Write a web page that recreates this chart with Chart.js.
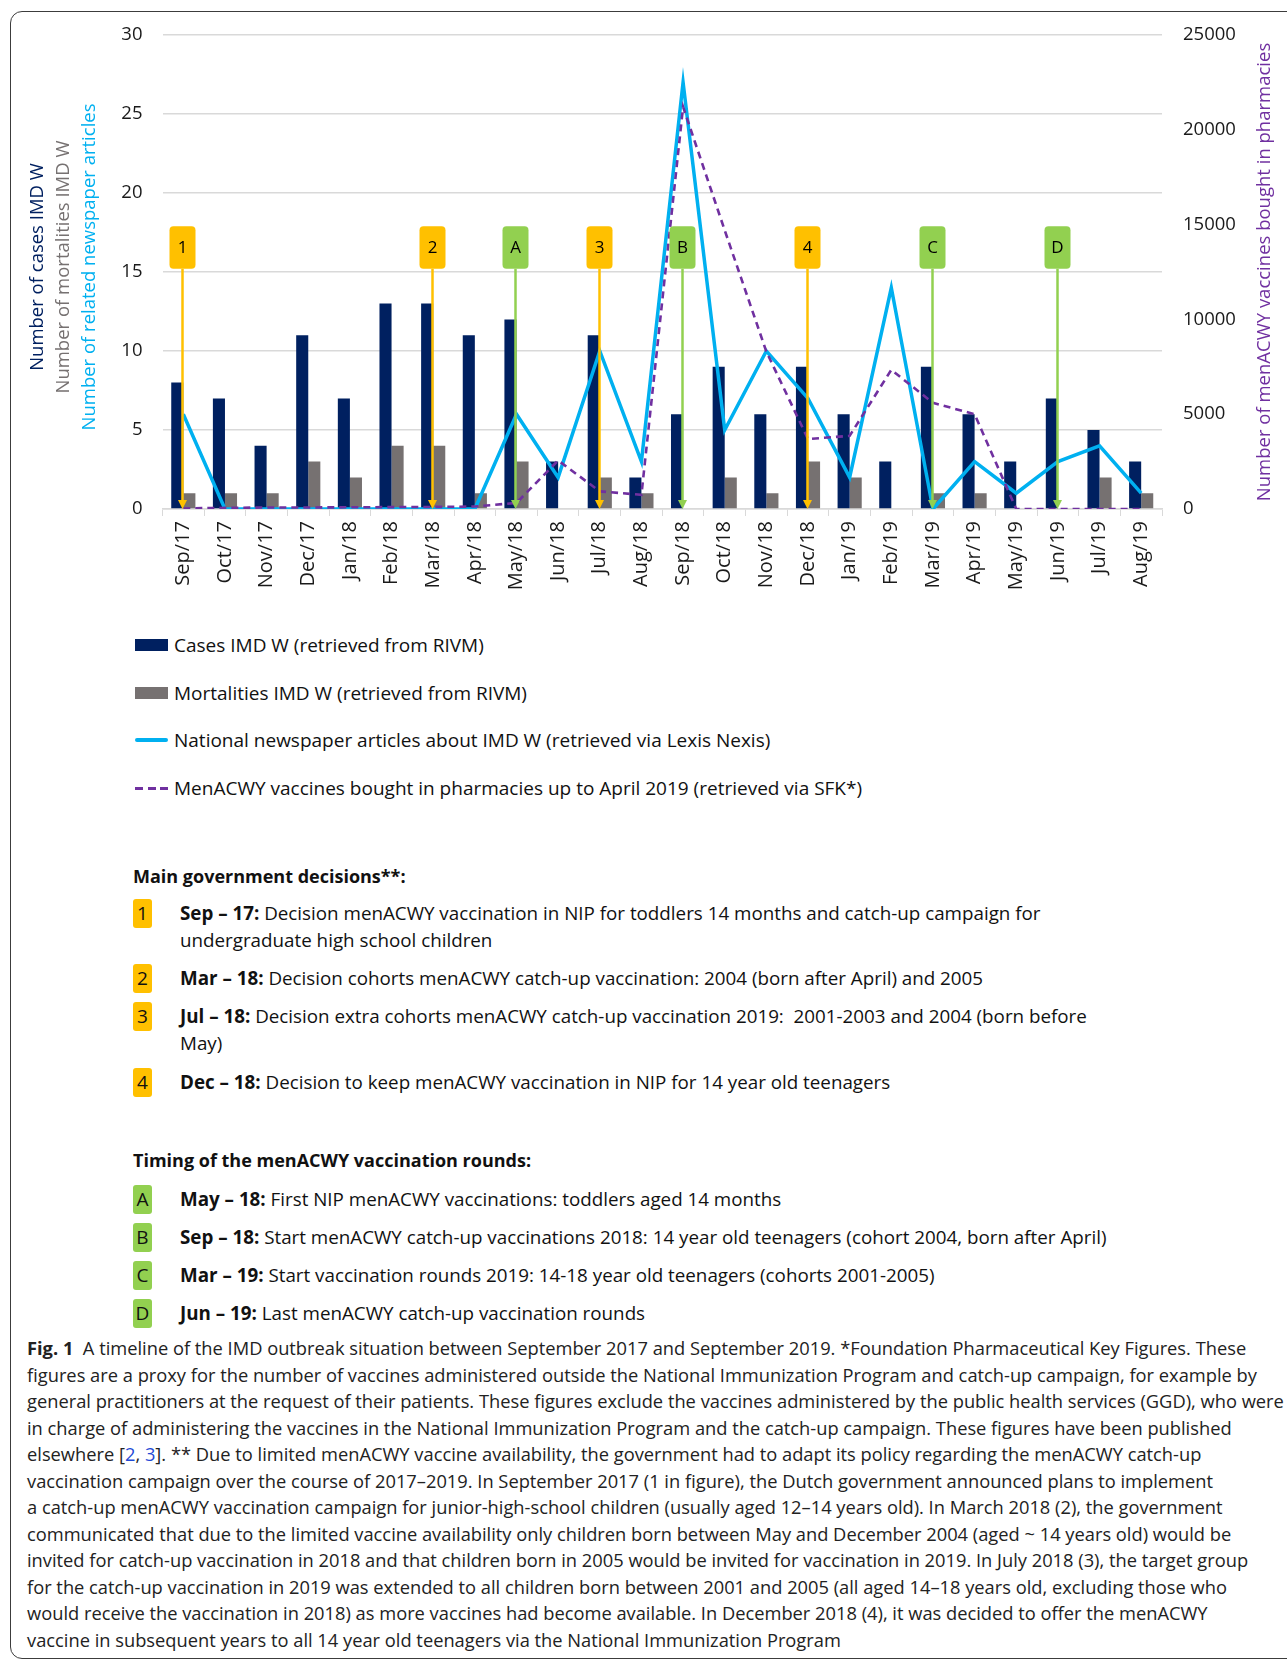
<!DOCTYPE html>
<html>
<head>
<meta charset="utf-8">
<script src="https://cdn.jsdelivr.net/npm/chart.js@4.4.1/dist/chart.umd.min.js"></script>
<style>
  body { margin: 0; width: 1287px; height: 1662px; overflow: hidden; position: relative; background: #fff; font-family: "Open Sans", sans-serif; color: #111; }
  #frame { position: absolute; left: 10px; top: 11px; width: 1320px; height: 1648px; border: 1.5px solid #3c3c3c; border-radius: 12px; box-sizing: border-box; }
  #chartBox { position: absolute; left: 0; top: 0; width: 1287px; height: 600px; }
  #legend { position: absolute; left: 135px; top: 621px; }
  .lg { height: 47.8px; display: flex; align-items: center; font-size: 19px; white-space: nowrap; }
  .sw { display: inline-block; width: 33px; margin-right: 6px; }
  .head { position: absolute; left: 133px; font-weight: 700; font-size: 18px; line-height: 27px; white-space: nowrap; }
  .badge { position: absolute; left: 133px; width: 19px; height: 29px; border-radius: 3px; font-size: 19px; line-height: 29px; text-align: center; }
  .item { position: absolute; left: 180px; font-size: 18.8px; line-height: 27px; white-space: nowrap; }
  #caption { position: absolute; left: 27px; top: 1335px; font-size: 18.3px; line-height: 26.5px; white-space: nowrap; color: #222; }
  #caption a { color: #1f49d6; text-decoration: none; }
</style>
</head>
<body>
<div id="frame"></div>
<div id="chartBox"><canvas id="imdChart" width="1287" height="600"></canvas></div>
<div id="legend"></div>
<div id="lists"></div>
<div id="caption"><b>Fig. 1</b>&nbsp; A timeline of the IMD outbreak situation between September 2017 and September 2019. *Foundation Pharmaceutical Key Figures. These<br>figures are a proxy for the number of vaccines administered outside the National Immunization Program and catch-up campaign, for example by<br>general practitioners at the request of their patients. These figures exclude the vaccines administered by the public health services (GGD), who were<br>in charge of administering the vaccines in the National Immunization Program and the catch-up campaign. These figures have been published<br>elsewhere [<a>2</a>, <a>3</a>]. ** Due to limited menACWY vaccine availability, the government had to adapt its policy regarding the menACWY catch-up<br>vaccination campaign over the course of 2017–2019. In September 2017 (1 in figure), the Dutch government announced plans to implement<br>a catch-up menACWY vaccination campaign for junior-high-school children (usually aged 12–14 years old). In March 2018 (2), the government<br>communicated that due to the limited vaccine availability only children born between May and December 2004 (aged ~ 14 years old) would be<br>invited for catch-up vaccination in 2018 and that children born in 2005 would be invited for vaccination in 2019. In July 2018 (3), the target group<br>for the catch-up vaccination in 2019 was extended to all children born between 2001 and 2005 (all aged 14–18 years old, excluding those who<br>would receive the vaccination in 2018) as more vaccines had become available. In December 2018 (4), it was decided to offer the menACWY<br>vaccine in subsequent years to all 14 year old teenagers via the National Immunization Program</div>
<script>
// data
const months = ['Sep/17', 'Oct/17', 'Nov/17', 'Dec/17', 'Jan/18', 'Feb/18', 'Mar/18', 'Apr/18',
    'May/18', 'Jun/18', 'Jul/18', 'Aug/18', 'Sep/18', 'Oct/18', 'Nov/18', 'Dec/18',
    'Jan/19', 'Feb/19', 'Mar/19', 'Apr/19', 'May/19', 'Jun/19', 'Jul/19', 'Aug/19'];
const casesIMDW = [8, 7, 4, 11, 7, 13, 13, 11, 12, 3, 11, 2, 6, 9, 6, 9, 6, 3, 9, 6, 3, 7, 5, 3];
const mortalitiesIMDW = [1, 1, 1, 3, 2, 4, 4, 1, 3, 0, 2, 1, 0, 2, 1, 3, 2, 0, 1, 1, 0, 0, 2, 1];
const newspaperArticles = [6, 0, 0, 0, 0, 0, 0, 0, 6, 2, 10, 3, 27, 5, 10, 7, 2, 14, 0, 3, 1, 3, 4, 1];
const vaccinesPharmacies = [30, 60, 80, 80, 90, 100, 110, 130, 320, 2560, 930, 750,
    21210, 14700, 8300, 3690, 3860, 7340, 5600, 5000, 0, 0, 0, 0];
const leftTicks = [0, 5, 10, 15, 20, 25, 30];
const rightTicks = [0, 5000, 10000, 15000, 20000, 25000];

const seriesNames = ['Cases IMD W (retrieved from RIVM)',
    'Mortalities IMD W (retrieved from RIVM)',
    'National newspaper articles about IMD W (retrieved via Lexis Nexis)',
    'MenACWY vaccines bought in pharmacies up to April 2019 (retrieved via SFK*)'];
const leftTitles = ['Number of cases IMD W', 'Number of mortalities IMD W', 'Number of related newspaper articles'];
const rightTitle = 'Number of menACWY vaccines bought in pharmacies';

const markerLabels = ['1', '2', 'A', '3', 'B', '4', 'C', 'D'];
const markerMonths = ['Sep/17', 'Mar/18', 'May/18', 'Jul/18', 'Sep/18', 'Dec/18', 'Mar/19', 'Jun/19'];

const decisionLabels = ['1', '2', '3', '4'];
const decisionDates = ['Sep – 17:', 'Mar – 18:', 'Jul – 18:', 'Dec – 18:'];
const decisionTexts = [
    ' Decision menACWY vaccination in NIP for toddlers 14 months and catch-up campaign for<br>undergraduate high school children',
    ' Decision cohorts menACWY catch-up vaccination: 2004 (born after April) and 2005',
    ' Decision extra cohorts menACWY catch-up vaccination 2019:&nbsp; 2001-2003 and 2004 (born before<br>May)',
    ' Decision to keep menACWY vaccination in NIP for 14 year old teenagers'];
const roundLabels = ['A', 'B', 'C', 'D'];
const roundDates = ['May – 18:', 'Sep – 18:', 'Mar – 19:', 'Jun – 19:'];
const roundTexts = [
    ' First NIP menACWY vaccinations: toddlers aged 14 months',
    ' Start menACWY catch-up vaccinations 2018: 14 year old teenagers (cohort 2004, born after April)',
    ' Start vaccination rounds 2019: 14-18 year old teenagers (cohorts 2001-2005)',
    ' Last menACWY catch-up vaccination rounds'];

const NAVY = '#002060', GREY = '#767171', CYAN = '#00B0F0', PURPLE = '#7030A0';
const YELLOW = '#FFC000', GREEN = '#92D050';
const titleColors = [NAVY, GREY, CYAN];
const FONT = '"Open Sans", sans-serif';

// rotated axis titles, three colours on the left
const axisTitles = {
    id: 'axisTitles',
    afterDraw(chart) {
        const { ctx, chartArea } = chart;
        const cy = (chartArea.top + chartArea.bottom) / 2 - 5;
        const xs = [chartArea.left - 125, chartArea.left - 99, chartArea.left - 73];
        ctx.save();
        ctx.font = '18.5px ' + FONT;
        ctx.textAlign = 'center';
        ctx.textBaseline = 'middle';
        leftTitles.forEach((t, i) => {
            ctx.save();
            ctx.translate(xs[i], cy);
            ctx.rotate(-Math.PI / 2);
            ctx.fillStyle = titleColors[i];
            ctx.fillText(t, 0, 0);
            ctx.restore();
        });
        ctx.translate(chartArea.right + 103, cy + 5);
        ctx.rotate(-Math.PI / 2);
        ctx.fillStyle = PURPLE;
        ctx.fillText(rightTitle, 0, 0);
        ctx.restore();
    }
};

// numbered / lettered flags with arrows down to the axis
const eventMarkers = {
    id: 'eventMarkers',
    afterDatasetsDraw(chart) {
        const { ctx } = chart;
        const xs = chart.scales.x, ys = chart.scales.y;
        const top = ys.getPixelForValue(17.9), bot = ys.getPixelForValue(15.2), base = ys.getPixelForValue(0);
        ctx.save();
        markerMonths.forEach((m, i) => {
            const px = Math.round(xs.getPixelForValue(months.indexOf(m))) - 0.5;
            const col = /\d/.test(markerLabels[i]) ? YELLOW : GREEN;
            ctx.strokeStyle = col;
            ctx.fillStyle = col;
            ctx.lineWidth = 2.5;
            ctx.beginPath();
            ctx.moveTo(px, bot);
            ctx.lineTo(px, base - 8);
            ctx.stroke();
            ctx.beginPath();
            ctx.moveTo(px - 4.5, base - 9);
            ctx.lineTo(px + 4.5, base - 9);
            ctx.lineTo(px, base);
            ctx.closePath();
            ctx.fill();
            ctx.beginPath();
            ctx.roundRect(px - 13, top, 26, bot - top, 4);
            ctx.fill();
            ctx.fillStyle = '#000';
            ctx.font = '17px ' + FONT;
            ctx.textAlign = 'center';
            ctx.textBaseline = 'middle';
            ctx.fillText(markerLabels[i], px, (top + bot) / 2 + 1);
        });
        ctx.restore();
    }
};

const ctx = document.getElementById('imdChart').getContext('2d');
const chart = new Chart(ctx, {
    type: 'bar',
    data: {
        labels: months,
        datasets: [{
            type: 'line',
            label: seriesNames[2],
            data: newspaperArticles,
            borderColor: CYAN,
            borderWidth: 3.5,
            pointRadius: 0,
            tension: 0,
            yAxisID: 'y',
            order: 1
        }, {
            type: 'line',
            label: seriesNames[3],
            data: vaccinesPharmacies,
            borderColor: PURPLE,
            borderWidth: 2.6,
            borderDash: [7, 5],
            pointRadius: 0,
            tension: 0,
            yAxisID: 'y1',
            order: 0
        }, {
            label: seriesNames[0],
            data: casesIMDW,
            backgroundColor: NAVY,
            yAxisID: 'y',
            categoryPercentage: 0.58,
            barPercentage: 1.0,
            order: 3
        }, {
            label: seriesNames[1],
            data: mortalitiesIMDW,
            backgroundColor: GREY,
            yAxisID: 'y',
            categoryPercentage: 0.58,
            barPercentage: 1.0,
            order: 3
        }]
    },
    options: {
        responsive: false,
        animation: false,
        devicePixelRatio: 1,
        layout: { padding: { top: 35, left: 0, right: 0, bottom: 0 } },
        scales: {
            x: {
                offset: true,
                grid: { display: true, drawOnChartArea: false, drawTicks: true, tickLength: 7, color: '#d9d9d9', offset: true },
                border: { color: '#d9d9d9', width: 1.5 },
                ticks: { minRotation: 90, maxRotation: 90, autoSkip: false, padding: 5, color: '#1a1a1a', font: { family: FONT, size: 20 } },
                afterFit(s) { s.height = 91; }
            },
            y: {
                position: 'left',
                min: 0,
                max: 30,
                afterBuildTicks(s) { s.ticks = leftTicks.map(v => ({ value: v })); },
                grid: { color: '#d9d9d9', lineWidth: 1.5, drawTicks: false },
                border: { display: false },
                ticks: { padding: 20, color: '#1a1a1a', font: { family: FONT, size: 18.5 } },
                afterFit(s) { s.width = 162.5; }
            },
            y1: {
                position: 'right',
                min: 0,
                max: 25000,
                afterBuildTicks(s) { s.ticks = rightTicks.map(v => ({ value: v })); },
                grid: { drawOnChartArea: false, drawTicks: false },
                border: { display: false },
                ticks: { padding: 21, color: '#1a1a1a', font: { family: FONT, size: 18.5 }, callback: v => String(v) },
                afterFit(s) { s.width = 125; }
            }
        },
        plugins: {
            legend: { display: false },
            tooltip: { enabled: false }
        }
    },
    plugins: [axisTitles, eventMarkers]
});

// legend below the chart, in the figure's order
const legendEl = document.getElementById('legend');
const legendSwatches = [
    '<span class="sw" style="height:12px;background:' + NAVY + '"></span>',
    '<span class="sw" style="height:12px;background:' + GREY + '"></span>',
    '<span class="sw" style="height:4px;border-radius:2px;background:' + CYAN + '"></span>',
    '<span class="sw" style="height:3px;background:repeating-linear-gradient(to right,' + PURPLE + ' 0 8px,transparent 8px 12.5px)"></span>'
];
seriesNames.forEach((name, i) => {
    legendEl.insertAdjacentHTML('beforeend', '<div class="lg">' + legendSwatches[i] + name + '</div>');
});

// decisions and vaccination rounds
const lists = document.getElementById('lists');
function addList(heading, headCenter, labels, dates, texts, centers, colour) {
    lists.insertAdjacentHTML('beforeend', '<div class="head" style="top:' + (headCenter - 13.5) + 'px">' + heading + '</div>');
    labels.forEach((lab, i) => {
        lists.insertAdjacentHTML('beforeend',
            '<div class="badge" style="top:' + (centers[i] - 14.5) + 'px;background:' + colour + '">' + lab + '</div>' +
            '<div class="item" style="top:' + (centers[i] - 13.5) + 'px"><b>' + dates[i] + '</b>' + texts[i] + '</div>');
    });
}
addList('Main government decisions**:', 876, decisionLabels, decisionDates, decisionTexts, [913, 978.5, 1016.6, 1082], YELLOW);
addList('Timing of the menACWY vaccination rounds:', 1160, roundLabels, roundDates, roundTexts, [1199, 1237, 1275, 1313], GREEN);
</script>
</body>
</html>
